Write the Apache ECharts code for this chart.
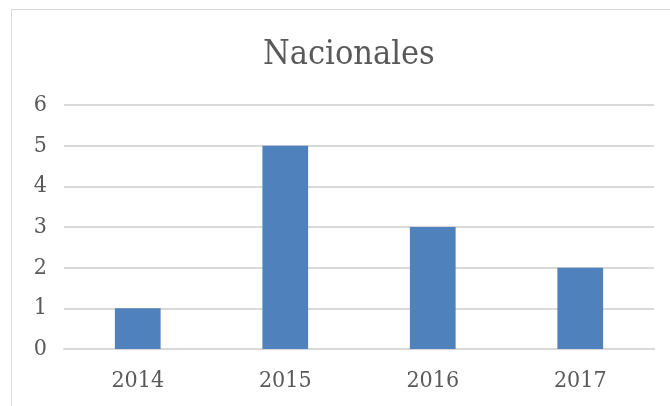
<!DOCTYPE html>
<html lang="es">
<head>
<meta charset="utf-8">
<title>Nacionales</title>
<script src="https://cdn.jsdelivr.net/npm/echarts@6/dist/echarts.min.js"></script>
<style>
  html, body { margin: 0; padding: 0; background: #fff; }
  #chart { width: 670px; height: 406px; }
</style>
</head>
<body>
<div id="chart"></div>
<script>
var years = ['2014', '2015', '2016', '2017'];
var counts = [1, 5, 3, 2];
var yTicks = [0, 1, 2, 3, 4, 5, 6];

var font = '"DejaVu Serif Condensed", "Liberation Serif", serif';

var myChart = echarts.init(document.getElementById('chart'));
var option = {
    animation: false,
    // marco del gráfico
    graphic: [{
        type: 'rect',
        shape: { x: 11.5, y: 9.5, width: 700, height: 450 },
        style: { fill: 'none', stroke: '#d9d9d9', lineWidth: 1 }
    }],
    title: {
        text: 'Nacionales',
        left: 258,
        top: 33,
        textStyle: { fontFamily: font, fontWeight: 'normal', fontSize: 34, color: '#595959' }
    },
    grid: { left: 64, right: 16, top: 105, bottom: 57 },
    xAxis: {
        type: 'category',
        data: years,
        axisLine: { lineStyle: { color: '#d9d9d9', width: 2 } },
        axisTick: { show: false },
        axisLabel: { fontFamily: font, fontSize: 23, color: '#595959', margin: 21 }
    },
    yAxis: {
        type: 'value',
        min: yTicks[0],
        max: yTicks[yTicks.length - 1],
        interval: 1,
        axisLine: { show: false },
        axisTick: { show: false },
        splitLine: { lineStyle: { color: '#d9d9d9', width: 2 } },
        axisLabel: { fontFamily: font, fontSize: 23, color: '#595959', margin: 17 }
    },
    series: [{
        type: 'bar',
        data: counts,
        barWidth: '31%',
        itemStyle: { color: '#4F81BD' }
    }]
};
myChart.setOption(option);
</script>
</body>
</html>
